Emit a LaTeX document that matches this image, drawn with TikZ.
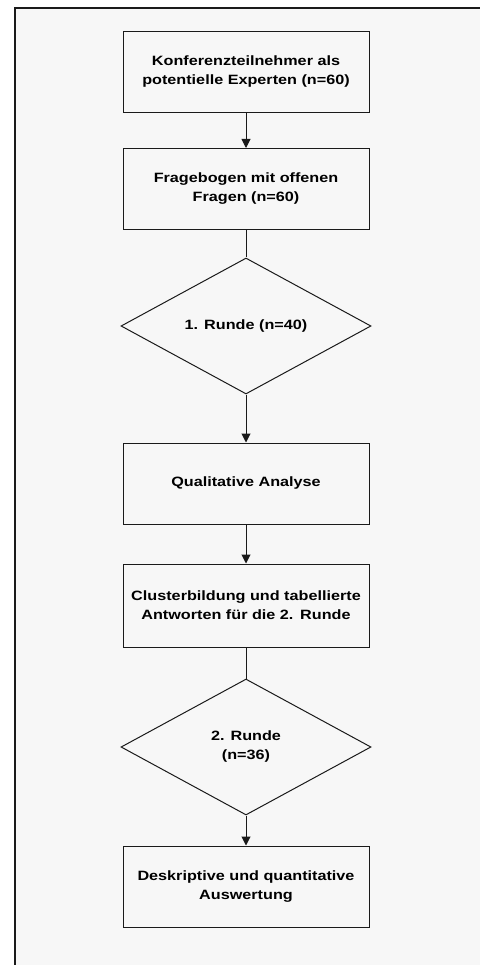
\documentclass[tikz,border=0pt]{standalone}
\usepackage{fontspec}
\usetikzlibrary{shapes.geometric,arrows.meta}
\newfontfamily\boxfont{Liberation Sans}[FakeStretch=1.2]
\definecolor{hgrund}{HTML}{F7F7F7}
\definecolor{linie}{HTML}{1A1A1A}

\begin{document}
\begin{tikzpicture}[x=1pt,y=-1pt,
        box/.style={draw=linie, line width=1pt, rectangle, minimum width=246pt,
            minimum height=81pt, text width=236pt, align=center, inner sep=0pt,
            font=\boxfont\bfseries\fontsize{13.5}{19}\selectfont},
        raute/.style={draw=linie, line width=1pt, diamond, aspect=1.8,
            minimum width=250pt, minimum height=136pt, inner sep=2pt, align=center,
            font=\boxfont\bfseries\fontsize{13.5}{19}\selectfont},
        pfeil/.style={draw=linie, line width=1pt, -{Triangle[length=9pt,width=9pt]}},
        linie/.style={draw=linie, line width=1pt}]
        \useasboundingbox (0,0) rectangle (480,965);

        % Rahmen
        \fill[hgrund] (15,8) rectangle (480,965);
        \draw[linie, line width=2pt] (15,965) -- (15,8) -- (480,8);

        % Kästen und Rauten
        \node[box] (teilnehmer) at (246,72) {Konferenzteilnehmer als\\potentielle Experten (n=60)};
        \node[box] (fragebogen) at (246,189) {Fragebogen mit offenen\\Fragen (n=60)};
        \node[raute] (runde1) at (246,326) {1. Runde (n=40)};
        \node[box] (analyse) at (246,483.5) {Qualitative Analyse};
        \node[box, minimum height=83pt] (cluster) at (246,605.5) {Clusterbildung und tabellierte\\Antworten für die 2. Runde};
        \node[raute] (runde2) at (246,747) {2. Runde\\(n=36)};
        \node[box] (auswertung) at (246,886.5) {Deskriptive und quantitative\\Auswertung};

        % Verbindungen
        \draw[pfeil] (teilnehmer) -- (fragebogen);
        \draw[linie] (fragebogen) -- (runde1);
        \draw[pfeil] (runde1) -- (analyse);
        \draw[pfeil] (analyse) -- (cluster);
        \draw[linie] (cluster) -- (runde2);
        \draw[pfeil] (runde2) -- (auswertung);
    \end{tikzpicture}
\end{document}
